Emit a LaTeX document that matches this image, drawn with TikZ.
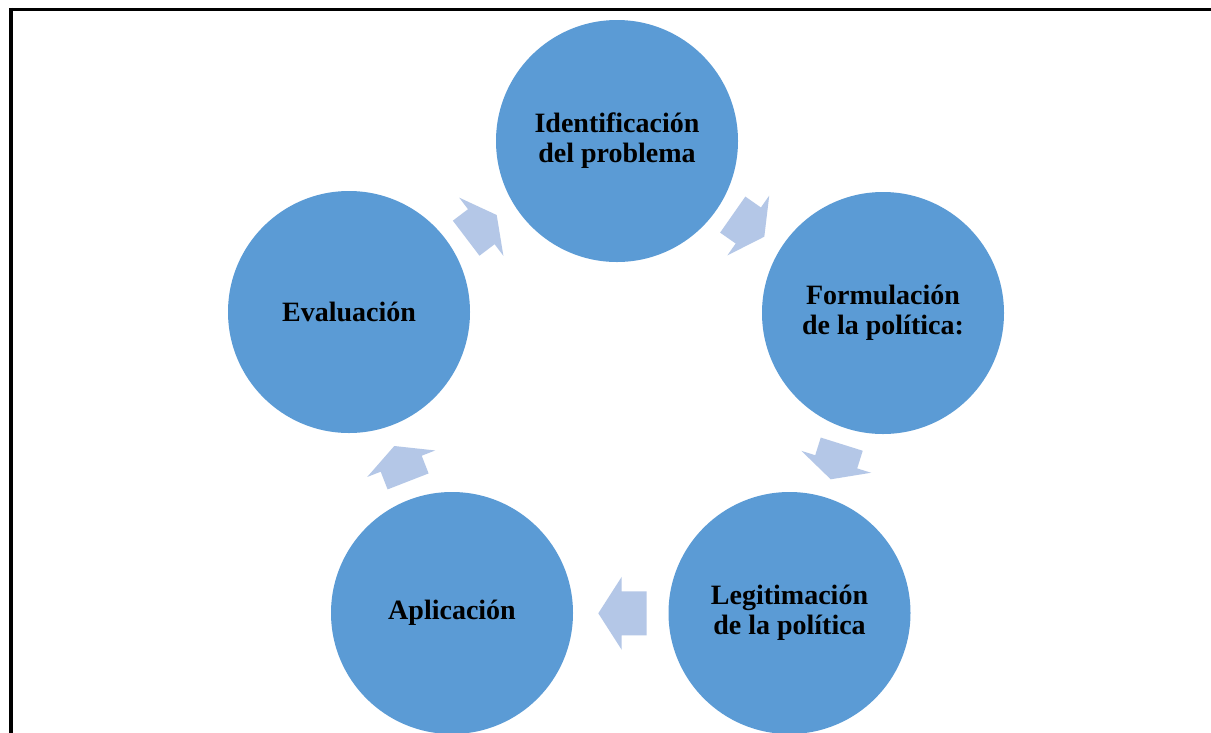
\documentclass[tikz,border=0pt]{standalone}
\usepackage{fontspec}
\setmainfont{Liberation Serif}
\usetikzlibrary{calc}
\definecolor{circblue}{HTML}{5B9BD5}
\definecolor{arrowblue}{HTML}{B4C7E7}
\newcommand\cyclearrow[4]{% name, base midpoint, tip, shaft length
  \coordinate (#1-bk) at ($(#2)!#4!180:(#3)$);
  \fill[arrowshape] (#3) -- ($(#2)!36.5pt!90:(#3)$) -- ($(#2)!22pt!90:(#3)$)
    -- ($(#1-bk)!22pt!90:(#3)$) -- ($(#1-bk)!22pt!-90:(#3)$)
    -- ($(#2)!22pt!-90:(#3)$) -- ($(#2)!36.5pt!-90:(#3)$) -- cycle;
}
\begin{document}
\begin{tikzpicture}[x=1pt,y=-1pt,
  stage/.style={circle, fill=circblue, minimum size=242pt, inner sep=0pt,
    align=center, font=\fontsize{28}{30}\selectfont\bfseries},
  arrowshape/.style={fill=arrowblue}]
\useasboundingbox (0,0) rectangle (1211,732);
\clip (0,0) rectangle (1211,732);
\fill[white] (0,0) rectangle (1211,732);
% frame
\draw[line width=4pt] (11,7.75) -- (11,745);
\draw[line width=3.5pt] (9,9.5) -- (1225,9.5);
% stages
\node[stage] (ident) at (617,141) {Identificación\\del problema};
\node[stage] (formul) at (883,313) {Formulación\\de la política:};
\node[stage] (legit) at (789.5,613) {Legitimación\\de la política};
\node[stage] (aplic) at (452,613) {Aplicación};
\node[stage] (eval) at (349,312) {Evaluación};
% arrow anchors
\coordinate (a1b) at (481.3,226.7); \coordinate (a1t) at (496.7,215);
\coordinate (a2b) at (748.3,225.5); \coordinate (a2t) at (764.3,236.7);
\coordinate (a3b) at (836.2,461.8); \coordinate (a3t) at (830.7,479.3);
\coordinate (a4b) at (621.7,613.3); \coordinate (a4t) at (598.3,613.3);
\coordinate (a5b) at (401.2,463.7); \coordinate (a5t) at (394.3,446);
\cyclearrow{a1}{a1b}{a1t}{19pt}
\cyclearrow{a2}{a2b}{a2t}{19pt}
\cyclearrow{a3}{a3b}{a3t}{18.5pt}
\cyclearrow{a4}{a4b}{a4t}{25pt}
\cyclearrow{a5}{a5b}{a5t}{19pt}
\end{tikzpicture}
\end{document}
